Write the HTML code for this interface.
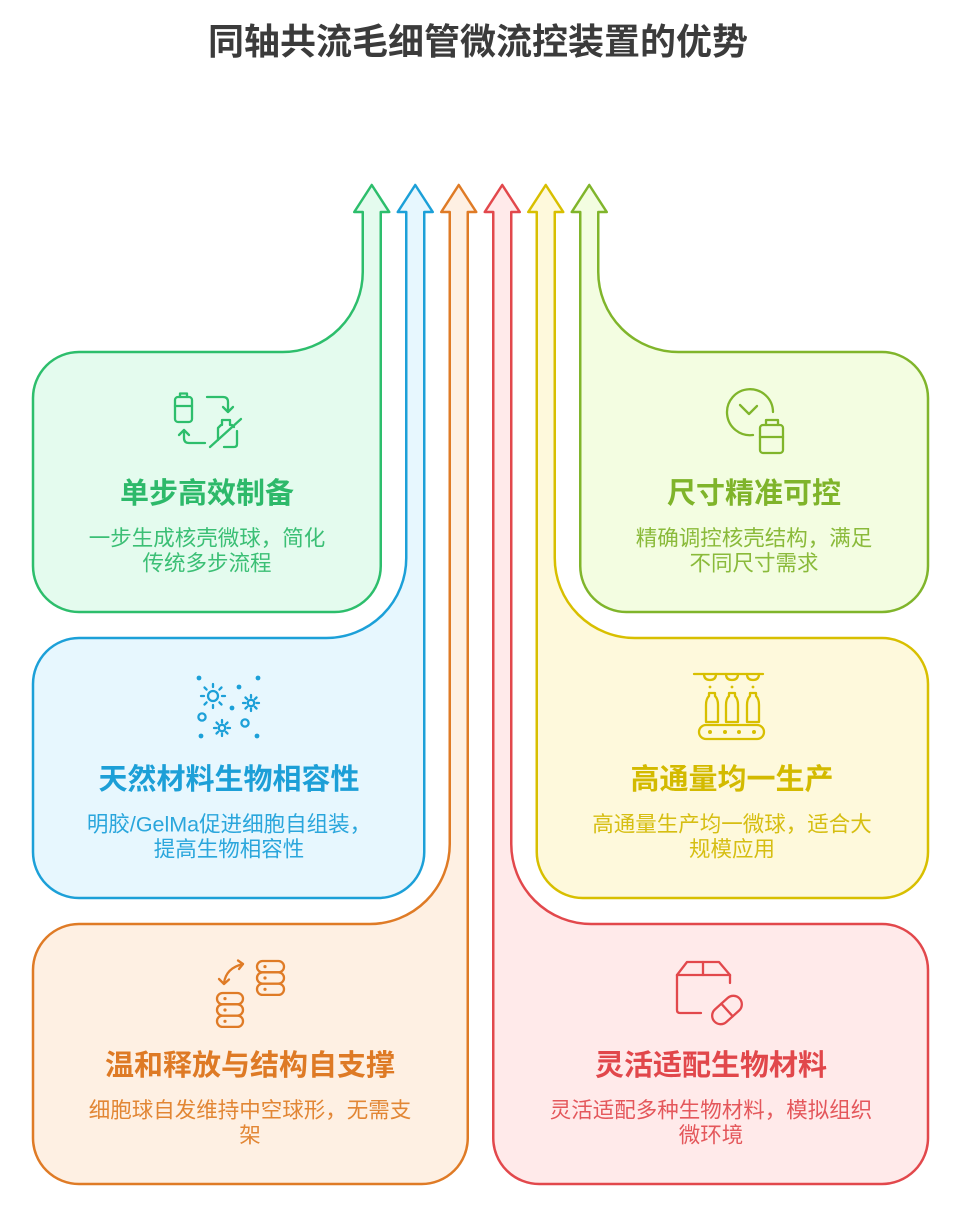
<!DOCTYPE html>
<html>
<head>
<meta charset="utf-8">
<style>
  html, body { margin: 0; padding: 0; background: #ffffff; }
  body { width: 955px; height: 1205px; overflow: hidden; }
  svg { display: block; }
  text { font-family: "Liberation Sans", "Noto Sans CJK SC", sans-serif; }
  .t { font-weight: 700; font-size: 29px; }
  .d { font-size: 21.5px; }
</style>
</head>
<body>
<svg width="955" height="1205" viewBox="0 0 955 1205" xmlns="http://www.w3.org/2000/svg">
  <!-- Main title -->
  <text x="478" y="54" text-anchor="middle" font-size="36" font-weight="700" fill="#3b3b3b">同轴共流毛细管微流控装置的优势</text>

  <g stroke-width="2.5" stroke-linejoin="round">
    <!-- Green -->
    <path fill="#e4fbee" stroke="#2dbe6c" d="M362.75,212 L354.25,212 L371.75,185 L389.25,212 L380.75,212 L380.75,566 A46,46 0 0 1 334.75,612 L79,612 A46,46 0 0 1 33,566 L33,398 A46,46 0 0 1 79,352 L282.75,352 A80,80 0 0 0 362.75,272 Z"/>
    <!-- Blue -->
    <path fill="#e7f7fe" stroke="#1ca0d8" d="M406.25,212 L397.75,212 L415.25,185 L432.75,212 L424.25,212 L424.25,852 A46,46 0 0 1 378.25,898 L79,898 A46,46 0 0 1 33,852 L33,684 A46,46 0 0 1 79,638 L326.25,638 A80,80 0 0 0 406.25,558 Z"/>
    <!-- Orange -->
    <path fill="#fef0e3" stroke="#df7b26" d="M449.75,212 L441.25,212 L458.75,185 L476.25,212 L467.75,212 L467.75,1138 A46,46 0 0 1 421.75,1184 L79,1184 A46,46 0 0 1 33,1138 L33,970 A46,46 0 0 1 79,924 L369.75,924 A80,80 0 0 0 449.75,844 Z"/>
    <!-- Red -->
    <path fill="#ffeaea" stroke="#e2484c" d="M511.25,212 L519.75,212 L502.25,185 L484.75,212 L493.25,212 L493.25,1138 A46,46 0 0 0 539.25,1184 L882,1184 A46,46 0 0 0 928,1138 L928,970 A46,46 0 0 0 882,924 L591.25,924 A80,80 0 0 1 511.25,844 Z"/>
    <!-- Yellow -->
    <path fill="#fef9dc" stroke="#d8bf00" d="M554.75,212 L563.25,212 L545.75,185 L528.25,212 L536.75,212 L536.75,852 A46,46 0 0 0 582.75,898 L882,898 A46,46 0 0 0 928,852 L928,684 A46,46 0 0 0 882,638 L634.75,638 A80,80 0 0 1 554.75,558 Z"/>
    <!-- Lime -->
    <path fill="#f3fde1" stroke="#80b52b" d="M598.25,212 L606.75,212 L589.25,185 L571.75,212 L580.25,212 L580.25,566 A46,46 0 0 0 626.25,612 L882,612 A46,46 0 0 0 928,566 L928,398 A46,46 0 0 0 882,352 L678.25,352 A80,80 0 0 1 598.25,272 Z"/>
  </g>

  <!-- ICONS -->
  <!-- Green icon -->
  <g fill="none" stroke="#2dbe6c" stroke-width="2.3" stroke-linecap="round" stroke-linejoin="round">
    <path d="M180,397 V393.5 H187 V397"/>
    <rect x="175" y="397" width="17" height="25" rx="3"/>
    <path d="M175,406 H192"/>
    <path d="M207,397 H223 Q228,397 228,402 V412"/>
    <path d="M223,407 L228,412 L233,407"/>
    <path d="M205,443 H189 Q184,443 184,438 V430"/>
    <path d="M179,435 L184,430 L189,435"/>
    <path d="M218,440 V428 L221,425 H222 V420 H230 V425 H232 L234,427"/>
    <path d="M237,431 V444 Q237,447 234,447 H224"/>
    <path d="M210,447 L241,419"/>
  </g>

  <!-- Blue icon -->
  <g fill="#1ca0d8">
    <circle cx="199" cy="678" r="2.4"/>
    <circle cx="258" cy="678" r="2.4"/>
    <circle cx="239" cy="687" r="2.4"/>
    <circle cx="232" cy="708" r="2.4"/>
    <circle cx="201" cy="736" r="2.4"/>
    <circle cx="257" cy="736" r="2.4"/>
  </g>
  <g fill="none" stroke="#1ca0d8" stroke-width="2.3" stroke-linecap="round">
    <circle cx="213" cy="696" r="5"/>
    <path d="M213,687 V684 M213,705 V708 M204,696 H201 M222,696 H225 M206.6,689.6 L204.5,687.5 M219.4,689.6 L221.5,687.5 M206.6,702.4 L204.5,704.5 M219.4,702.4 L221.5,704.5"/>
    <circle cx="251" cy="703" r="3.2"/>
    <path d="M251,697.5 V695 M251,708.5 V711 M245.5,703 H243 M256.5,703 H259 M247.2,699.2 L245.5,697.5 M254.8,699.2 L256.5,697.5 M247.2,706.8 L245.5,708.5 M254.8,706.8 L256.5,708.5"/>
    <circle cx="222" cy="728" r="3.2"/>
    <path d="M222,722.5 V720 M222,733.5 V736 M216.5,728 H214 M227.5,728 H230 M218.2,724.2 L216.5,722.5 M225.8,724.2 L227.5,722.5 M218.2,731.8 L216.5,733.5 M225.8,731.8 L227.5,733.5"/>
    <circle cx="202" cy="717" r="3.6"/>
    <circle cx="245" cy="723" r="3.6"/>
  </g>

  <!-- Orange icon -->
  <g fill="none" stroke="#df7b26" stroke-width="2.3" stroke-linecap="round" stroke-linejoin="round">
    <rect x="257" y="961" width="27" height="11.3" rx="5.6"/>
    <rect x="257" y="972.3" width="27" height="11.3" rx="5.6"/>
    <rect x="257" y="983.6" width="27" height="11.3" rx="5.6"/>
    <rect x="217" y="993" width="26" height="11.3" rx="5.6"/>
    <rect x="217" y="1004.3" width="26" height="11.3" rx="5.6"/>
    <rect x="217" y="1015.6" width="26" height="11.3" rx="5.6"/>
    <path d="M224,983 Q226,968 243,964"/>
    <path d="M238,960.5 L243,964 L239,969"/>
    <path d="M219,979 L224,984 L229,979.5"/>
  </g>
  <g fill="#df7b26">
    <circle cx="265" cy="966.6" r="1.6"/>
    <circle cx="265" cy="978" r="1.6"/>
    <circle cx="265" cy="989.3" r="1.6"/>
    <circle cx="225" cy="998.6" r="1.6"/>
    <circle cx="225" cy="1010" r="1.6"/>
    <circle cx="225" cy="1021.3" r="1.6"/>
  </g>

  <!-- Red icon -->
  <g fill="none" stroke="#e2484c" stroke-width="2.3" stroke-linecap="round" stroke-linejoin="round">
    <path d="M677,975 L687,962 H719 L730,975"/>
    <path d="M677,975 H730"/>
    <path d="M703,962 V975"/>
    <path d="M677,975 V1010 Q677,1013 680,1013 H701"/>
    <path d="M730,975 V983"/>
    <g transform="translate(727,1010) rotate(-42)">
      <rect x="-17" y="-8.5" width="34" height="17" rx="8.5"/>
      <path d="M0,-8.5 V8.5"/>
    </g>
  </g>

  <!-- Lime icon -->
  <g fill="none" stroke="#80b52b" stroke-width="2.3" stroke-linecap="round" stroke-linejoin="round">
    <path d="M753,435 A23,23 0 1 1 773,412"/>
    <path d="M740,405 L749,414 L757,406"/>
    <path d="M766,425 V420 H778 V425"/>
    <rect x="760" y="425" width="23" height="28" rx="3"/>
    <path d="M760,437 H783"/>
  </g>

  <!-- Yellow icon -->
  <g fill="none" stroke="#d8bf00" stroke-width="2.3" stroke-linecap="round" stroke-linejoin="round">
    <path d="M694,674 H763"/>
    <path d="M704,674 Q704,680 710,680 Q716,680 716,674"/>
    <path d="M726,674 Q726,680 732,680 Q738,680 738,674"/>
    <path d="M747,674 Q747,680 753,680 Q759,680 759,674"/>
    <path d="M709,693 H715 V696 Q718,699 718,705 V722 H706 V705 Q706,699 709,696 Z"/>
    <path d="M729,693 H735 V696 Q738,699 738,705 V722 H726 V705 Q726,699 729,696 Z"/>
    <path d="M750,693 H756 V696 Q759,699 759,705 V722 H747 V705 Q747,699 750,696 Z"/>
    <rect x="699" y="725" width="65" height="14" rx="7"/>
  </g>
  <g fill="#d8bf00">
    <circle cx="710" cy="687" r="1.4"/>
    <circle cx="732" cy="687" r="1.4"/>
    <circle cx="753" cy="687" r="1.4"/>
    <circle cx="710" cy="732" r="2"/>
    <circle cx="725" cy="732" r="2"/>
    <circle cx="739" cy="732" r="2"/>
    <circle cx="754" cy="732" r="2"/>
  </g>

  <!-- TEXT -->
  <!-- Green card: cy=482 -->
  <text class="t" x="207" y="503" text-anchor="middle" fill="#2db96a">单步高效制备</text>
  <text class="d" x="207" y="545.5" text-anchor="middle" fill="#3bbf75">一步生成核壳微球，简化</text>
  <text class="d" x="207" y="570.5" text-anchor="middle" fill="#3bbf75">传统多步流程</text>

  <!-- Lime card -->
  <text class="t" x="754" y="503" text-anchor="middle" fill="#7fb42a">尺寸精准可控</text>
  <text class="d" x="754" y="545.5" text-anchor="middle" fill="#8aba3a">精确调控核壳结构，满足</text>
  <text class="d" x="754" y="570.5" text-anchor="middle" fill="#8aba3a">不同尺寸需求</text>

  <!-- Blue card: cy=768 -->
  <text class="t" x="229" y="789" text-anchor="middle" fill="#1c9fd7">天然材料生物相容性</text>
  <text class="d" x="229" y="831.5" text-anchor="middle" fill="#2aa6dc">明胶/GelMa促进细胞自组装，</text>
  <text class="d" x="229" y="856.5" text-anchor="middle" fill="#2aa6dc">提高生物相容性</text>

  <!-- Yellow card -->
  <text class="t" x="732" y="789" text-anchor="middle" fill="#d3ba00">高通量均一生产</text>
  <text class="d" x="732" y="831.5" text-anchor="middle" fill="#d6be12">高通量生产均一微球，适合大</text>
  <text class="d" x="732" y="856.5" text-anchor="middle" fill="#d6be12">规模应用</text>

  <!-- Orange card: cy=1054 -->
  <text class="t" x="250" y="1075" text-anchor="middle" fill="#de7a25">温和释放与结构自支撑</text>
  <text class="d" x="250" y="1117.5" text-anchor="middle" fill="#e28634">细胞球自发维持中空球形，无需支</text>
  <text class="d" x="250" y="1142.5" text-anchor="middle" fill="#e28634">架</text>

  <!-- Red card -->
  <text class="t" x="711" y="1075" text-anchor="middle" fill="#e1474b">灵活适配生物材料</text>
  <text class="d" x="711" y="1117.5" text-anchor="middle" fill="#e4575b">灵活适配多种生物材料，模拟组织</text>
  <text class="d" x="711" y="1142.5" text-anchor="middle" fill="#e4575b">微环境</text>
</svg>
</body>
</html>
